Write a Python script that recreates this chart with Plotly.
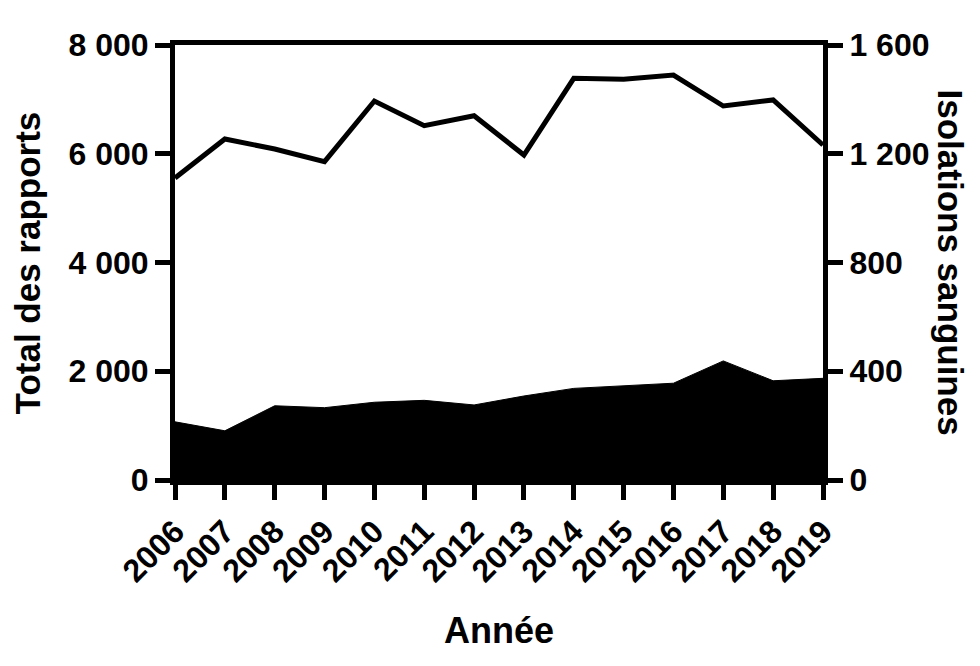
import plotly.graph_objects as go

years = list(range(2006, 2020))
total_rapports = [5554, 6271, 6087, 5854, 6970, 6516, 6700, 5977, 7387, 7369, 7448, 6878, 6989, 6161]
isolations_sanguines = [214, 181, 273, 266, 286, 293, 276, 309, 337, 346, 356, 438, 365, 374]
left_ticks = [0, 2000, 4000, 6000, 8000]
left_labels = ["0", "2 000", "4 000", "6 000", "8 000"]
right_ticks = [0, 400, 800, 1200, 1600]
right_labels = ["0", "400", "800", "1 200", "1 600"]
year_labels = [str(y) for y in years]

FONT = "Liberation Sans, Arial, sans-serif"

fig = go.Figure()
fig.add_trace(go.Scatter(
    x=years, y=isolations_sanguines, yaxis="y2", mode="lines",
    fill="tozeroy", fillcolor="black", line=dict(color="black", width=1),
    showlegend=False, hoverinfo="skip"))
fig.add_trace(go.Scatter(
    x=years, y=total_rapports, yaxis="y", mode="lines",
    line=dict(color="black", width=5), showlegend=False))

axis_common = dict(showgrid=False, zeroline=False, showline=True, linecolor="black",
                   linewidth=5, ticks="outside", tickcolor="black", tickwidth=5,
                   tickfont=dict(family=FONT, size=32, color="black", weight="bold"))

fig.update_layout(
    width=980, height=666,
    margin=dict(l=167, r=165, t=37, b=194),
    plot_bgcolor="white", paper_bgcolor="white",
    xaxis=dict(range=[2006, 2019], tickvals=years, ticktext=year_labels, tickangle=-45,
               mirror=True, ticklen=15, **axis_common),
    yaxis=dict(range=[0, 8000], tickvals=left_ticks, ticktext=left_labels,
               ticklen=15, **axis_common),
    yaxis2=dict(range=[0, 1600], tickvals=right_ticks, ticktext=right_labels,
                overlaying="y", side="right", ticklen=15, **axis_common),
    annotations=[
        dict(text="Total des rapports", xref="paper", yref="paper", x=-0.227, y=0.5,
             textangle=-90, showarrow=False, xanchor="center", yanchor="middle",
             font=dict(family=FONT, size=35, color="black", weight="bold")),
        dict(text="Isolations sanguines", xref="paper", yref="paper", x=1.196, y=0.5,
             textangle=90, showarrow=False, xanchor="center", yanchor="middle",
             font=dict(family=FONT, size=35, color="black", weight="bold")),
        dict(text="Année", xref="paper", yref="paper", x=0.5, y=-0.345,
             showarrow=False, xanchor="center", yanchor="middle",
             font=dict(family=FONT, size=36, color="black", weight="bold")),
    ],
)

fig.write_html("out.html")
